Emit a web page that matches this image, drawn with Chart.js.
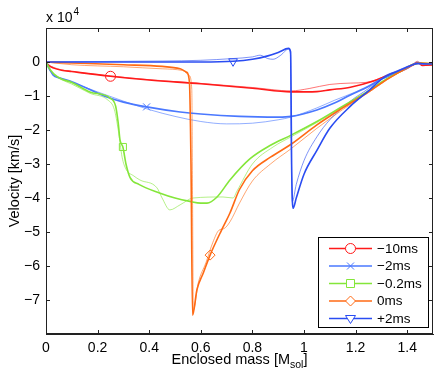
<!DOCTYPE html>
<html>
<head>
<meta charset="utf-8">
<script src="https://cdn.jsdelivr.net/npm/chart.js@4/dist/chart.umd.min.js"></script>
<style>
  html, body { margin: 0; padding: 0; background: #fff; }
</style>
</head>
<body>
<canvas id="velChart" width="439" height="375"></canvas>
<script>
// velocity in units of 10^4 km/s, enclosed mass in M_sol
const seriesNames = ['−10ms', '−2ms', '−0.2ms', '0ms', '+2ms'];
const xTicks = [0, 0.2, 0.4, 0.6, 0.8, 1, 1.2, 1.4];
const yTicks = [0, -1, -2, -3, -4, -5, -6, -7];

// each run: main (thick) curve and a second model (thin)
const m10 = [[0,0],[0.01,-0.1],[0.03,-0.18],[0.06,-0.24],[0.1,-0.28],[0.25,-0.42],[0.4,-0.53],[0.6,-0.64],[0.8,-0.77],[0.95,-0.88],[1.05,-0.87],[1.1,-0.82],[1.18,-0.74],[1.27,-0.56],[1.33,-0.38],[1.38,-0.26],[1.42,-0.1],[1.44,-0.02],[1.46,-0.1],[1.5,-0.08]];
const m10b = [[0,0],[0.01,-0.08],[0.03,-0.16],[0.06,-0.23],[0.1,-0.28],[0.25,-0.41],[0.4,-0.52],[0.6,-0.63],[0.8,-0.75],[0.95,-0.85],[1.02,-0.78],[1.1,-0.66],[1.18,-0.62],[1.24,-0.6],[1.28,-0.52],[1.33,-0.36],[1.38,-0.22],[1.42,-0.08],[1.44,0.02],[1.46,-0.1],[1.5,-0.1]];

const m2 = [[0,0],[0.01,-0.15],[0.027,-0.38],[0.054,-0.47],[0.1,-0.58],[0.236,-1.03],[0.3,-1.18],[0.39,-1.32],[0.52,-1.47],[0.6,-1.53],[0.75,-1.6],[0.9,-1.62],[0.95,-1.6],[1.05,-1.41],[1.12,-1.2],[1.18,-0.97],[1.25,-0.72],[1.3,-0.5],[1.35,-0.35],[1.4,-0.18],[1.43,-0.05],[1.46,-0.05],[1.5,-0.06]];
const m2b = [[0,0],[0.01,-0.2],[0.03,-0.38],[0.05,-0.47],[0.1,-0.6],[0.2,-0.88],[0.3,-1.15],[0.4,-1.4],[0.5,-1.6],[0.6,-1.75],[0.7,-1.82],[0.8,-1.8],[0.9,-1.7],[0.95,-1.62],[1.05,-1.35],[1.12,-1.12],[1.2,-0.88],[1.27,-0.62],[1.33,-0.4],[1.38,-0.22],[1.42,-0.08],[1.44,0],[1.47,-0.07],[1.5,-0.06]];

const m02 = [[0,0],[0.01,-0.15],[0.03,-0.35],[0.06,-0.5],[0.1,-0.6],[0.17,-0.88],[0.248,-1.06],[0.27,-1.3],[0.28,-1.8],[0.287,-2.3],[0.298,-2.5],[0.31,-3.0],[0.326,-3.4],[0.36,-3.6],[0.44,-3.85],[0.5,-4.0],[0.558,-4.1],[0.6,-4.15],[0.624,-4.15],[0.663,-3.97],[0.713,-3.47],[0.79,-2.85],[0.87,-2.45],[0.95,-2.15],[1.05,-1.75],[1.15,-1.3],[1.25,-0.85],[1.32,-0.5],[1.38,-0.25],[1.42,-0.08],[1.45,-0.03],[1.5,-0.06]];
const m02b = [[0,0],[0.01,-0.18],[0.03,-0.38],[0.06,-0.52],[0.1,-0.65],[0.17,-0.92],[0.24,-1.12],[0.265,-1.4],[0.28,-2.0],[0.295,-2.8],[0.31,-3.15],[0.34,-3.35],[0.364,-3.47],[0.43,-3.7],[0.45,-4.0],[0.48,-4.35],[0.52,-4.2],[0.57,-4.0],[0.686,-3.97],[0.725,-4.0],[0.74,-3.8],[0.8,-3.0],[0.88,-2.5],[0.95,-2.2],[1.05,-1.78],[1.15,-1.32],[1.25,-0.86],[1.32,-0.5],[1.38,-0.25],[1.42,-0.08],[1.45,-0.03],[1.5,-0.06]];

const m0 = [[0,0],[0.1,-0.03],[0.3,-0.08],[0.45,-0.13],[0.52,-0.2],[0.545,-0.3],[0.556,-0.6],[0.562,-3],[0.568,-7.45],[0.585,-6.7],[0.61,-6.2],[0.636,-5.68],[0.68,-4.95],[0.713,-4.44],[0.75,-3.75],[0.8,-3.2],[0.87,-2.8],[0.95,-2.42],[1.05,-1.85],[1.15,-1.35],[1.25,-0.88],[1.32,-0.52],[1.38,-0.25],[1.42,-0.08],[1.45,-0.03],[1.5,-0.06]];
const m0b = [[0,0],[0.1,-0.08],[0.3,-0.14],[0.45,-0.2],[0.53,-0.25],[0.555,-0.4],[0.565,-0.8],[0.568,-4],[0.571,-7.3],[0.59,-6.5],[0.62,-5.9],[0.647,-5.3],[0.67,-4.95],[0.69,-4.9],[0.713,-4.7],[0.75,-4.15],[0.8,-3.5],[0.87,-3.0],[0.95,-2.55],[1.05,-1.95],[1.15,-1.4],[1.25,-0.9],[1.32,-0.53],[1.38,-0.26],[1.42,-0.08],[1.45,-0.03],[1.5,-0.06]];

const p2 = [[0,0],[0.3,0],[0.6,0],[0.725,0.02],[0.8,0.08],[0.86,0.18],[0.9,0.28],[0.94,0.4],[0.948,0.3],[0.95,-1],[0.952,-3],[0.958,-4.3],[0.97,-4.0],[1.0,-3.3],[1.05,-2.6],[1.1,-1.95],[1.18,-1.3],[1.25,-0.85],[1.31,-0.45],[1.36,-0.28],[1.41,-0.12],[1.44,-0.04],[1.46,-0.05],[1.5,-0.06]];
const p2b = [[0,0],[0.3,0.02],[0.6,0.05],[0.72,0.1],[0.8,0.15],[0.83,0.2],[0.86,0.1],[0.88,0.08],[0.91,0.2],[0.94,0.38],[0.948,0.2],[0.95,-2],[0.955,-4.1],[0.97,-3.6],[1.0,-2.9],[1.05,-2.2],[1.1,-1.7],[1.18,-1.15],[1.25,-0.78],[1.31,-0.42],[1.36,-0.26],[1.41,-0.1],[1.44,-0.02],[1.46,-0.05],[1.5,-0.06]];

const mainRuns = [m10, m2, m02, m0, p2];
const altRuns = [m10b, m2b, m02b, m0b, p2b];
const markerAt = [5, 7, 10, 11, 3]; // index of the point carrying the marker

const colors = ['#ff1a1a', '#4a78ff', '#84e63a', '#ff6a14', '#2a4cf2'];
const pointStyles = ['circle', 'crossRot', 'rect', 'rectRot', 'triangle'];
const pointRot = [0, 0, 0, 0, 180];
const FONT = 'Liberation Sans, Arial, Helvetica, sans-serif';

function fmt(v) {
  const s = String(Math.round(v * 10) / 10);
  return s.replace('-', '−');
}

const datasets = [];
altRuns.forEach((run, i) => {
  datasets.push({
    data: run.map(p => ({ x: p[0], y: p[1] })),
    borderColor: colors[i] + '99',
    borderWidth: 1,
    pointRadius: 0,
    order: 20 - i
  });
});
mainRuns.forEach((run, i) => {
  datasets.push({
    data: run.map(p => ({ x: p[0], y: p[1] })),
    borderColor: colors[i],
    borderWidth: 1.6,
    pointStyle: pointStyles[i],
    rotation: pointRot[i],
    pointRadius: ctx => ctx.dataIndex === markerAt[i] ? 5 : 0,
    pointBorderWidth: 1,
    pointBorderColor: colors[i],
    pointBackgroundColor: 'rgba(255,255,255,0)',
    order: 10 - i
  });
});

function drawMarker(ctx, style, x, y, r, color) {
  ctx.save();
  ctx.strokeStyle = color;
  ctx.fillStyle = '#fff';
  ctx.lineWidth = 1;
  ctx.beginPath();
  if (style === 'circle') {
    ctx.arc(x, y, r, 0, Math.PI * 2);
    ctx.fill();
  } else if (style === 'crossRot') {
    const d = r * 0.7;
    ctx.moveTo(x - d, y - d); ctx.lineTo(x + d, y + d);
    ctx.moveTo(x + d, y - d); ctx.lineTo(x - d, y + d);
  } else if (style === 'rect') {
    const d = r * 0.8;
    ctx.rect(x - d, y - d, 2 * d, 2 * d);
    ctx.fill();
  } else if (style === 'rectRot') {
    ctx.moveTo(x, y - r); ctx.lineTo(x + r, y); ctx.lineTo(x, y + r); ctx.lineTo(x - r, y); ctx.closePath();
    ctx.fill();
  } else {
    ctx.moveTo(x - r, y - r * 0.6); ctx.lineTo(x + r, y - r * 0.6); ctx.lineTo(x, y + r); ctx.closePath();
    ctx.fill();
  }
  ctx.stroke();
  ctx.restore();
}

const frame = {
  id: 'frame',
  afterDraw(chart) {
    const { ctx, chartArea: a, scales } = chart;
    ctx.save();
    ctx.strokeStyle = '#222';
    ctx.lineWidth = 1;
    ctx.strokeRect(a.left + 0.5, a.top + 0.5, a.right - a.left - 1, a.bottom - a.top - 1);
    ctx.beginPath();
    xTicks.forEach(v => {
      const px = Math.round(scales.x.getPixelForValue(v)) + 0.5;
      ctx.moveTo(px, a.bottom); ctx.lineTo(px, a.bottom - 4);
      ctx.moveTo(px, a.top); ctx.lineTo(px, a.top + 4);
    });
    yTicks.forEach(v => {
      const py = Math.round(scales.y.getPixelForValue(v)) + 0.5;
      ctx.moveTo(a.left, py); ctx.lineTo(a.left + 4, py);
      ctx.moveTo(a.right, py); ctx.lineTo(a.right - 4, py);
    });
    ctx.stroke();

    // exponent label
    ctx.fillStyle = '#000';
    ctx.textBaseline = 'alphabetic';
    ctx.textAlign = 'left';
    ctx.font = '14px ' + FONT;
    ctx.fillText('x 10', 46, 22);
    const w10 = ctx.measureText('x 10').width;
    ctx.font = '10px ' + FONT;
    ctx.fillText('4', 46 + w10 + 1, 15);

    // axis titles
    ctx.font = '14.5px ' + FONT;
    const t1 = 'Enclosed mass [M', t2 = 'sol', t3 = ']';
    const w1 = ctx.measureText(t1).width, w3 = ctx.measureText(t3).width;
    ctx.font = '10.5px ' + FONT;
    const w2 = ctx.measureText(t2).width;
    let x0 = (a.left + a.right) / 2 - (w1 + w2 + w3) / 2;
    ctx.font = '14.5px ' + FONT;
    ctx.fillText(t1, x0, 364);
    ctx.font = '10.5px ' + FONT;
    ctx.fillText(t2, x0 + w1, 368);
    ctx.font = '14.5px ' + FONT;
    ctx.fillText(t3, x0 + w1 + w2, 364);

    ctx.save();
    ctx.translate(19, (a.top + a.bottom) / 2);
    ctx.rotate(-Math.PI / 2);
    ctx.textAlign = 'center';
    ctx.fillText('Velocity [km/s]', 0, 0);
    ctx.restore();

    // legend
    const lx = 318, ly = 237, lw = 110, lh = 90;
    ctx.fillStyle = '#fff';
    ctx.fillRect(lx, ly, lw, lh);
    ctx.strokeStyle = '#000';
    ctx.strokeRect(lx + 0.5, ly + 0.5, lw, lh);
    ctx.font = '13.5px ' + FONT;
    ctx.textBaseline = 'middle';
    seriesNames.forEach((name, i) => {
      const y = ly + 11.5 + i * 17.5;
      ctx.strokeStyle = colors[i];
      ctx.lineWidth = 1.4;
      ctx.beginPath();
      ctx.moveTo(329, y); ctx.lineTo(372, y);
      ctx.stroke();
      drawMarker(ctx, pointStyles[i], 350.5, y, 5, colors[i]);
      ctx.fillStyle = '#000';
      ctx.fillText(name, 377, y + 0.5);
    });
    ctx.restore();
  }
};

new Chart(document.getElementById('velChart'), {
  type: 'line',
  data: { datasets },
  options: {
    responsive: false,
    animation: false,
    devicePixelRatio: 1,
    layout: { padding: { left: 0, right: 6, top: 28, bottom: 0 } },
    plugins: { legend: { display: false }, tooltip: { enabled: false } },
    elements: { line: { cubicInterpolationMode: 'monotone' } },
    scales: {
      x: {
        type: 'linear',
        min: 0,
        max: 1.5,
        afterBuildTicks: s => { s.ticks = xTicks.map(v => ({ value: v })); },
        afterFit: s => { s.height = 41; },
        grid: { display: false, drawTicks: false },
        border: { display: true, color: '#222' },
        ticks: { color: '#000', padding: 6, maxRotation: 0, autoSkip: false, font: { family: FONT, size: 14 }, callback: v => fmt(v) }
      },
      y: {
        type: 'linear',
        min: -8,
        max: 1,
        afterBuildTicks: s => { s.ticks = yTicks.map(v => ({ value: v })); },
        afterFit: s => { s.width = 46; },
        grid: { display: false, drawTicks: false },
        border: { display: true, color: '#222' },
        ticks: { color: '#000', padding: 6, autoSkip: false, font: { family: FONT, size: 14 }, callback: v => fmt(v) }
      }
    }
  },
  plugins: [frame]
});
</script>
</body>
</html>
